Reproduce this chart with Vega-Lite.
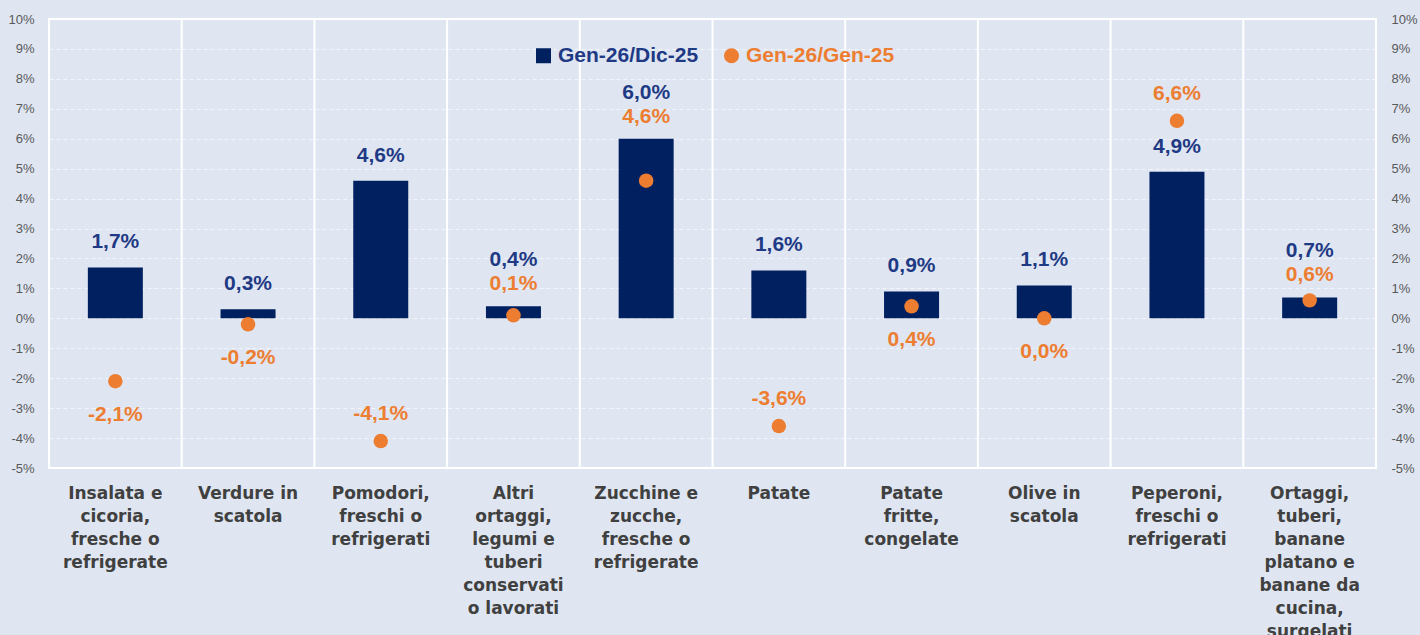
{
  "$schema": "https://vega.github.io/schema/vega-lite/v6.json",
  "width": 1327,
  "height": 449,
  "autosize": "none",
  "padding": {"left": 49, "top": 19, "right": 44, "bottom": 167},
  "background": "#dfe6f2",
  "config": {
    "view": {"stroke": "white", "strokeWidth": 2},
    "locale": {"number": {"decimal": ",", "thousands": ".", "grouping": [3], "currency": ["", " €"], "minus": "-"}}
  },
  "data": {
    "values": [
      {"cat": "Insalata e|cicoria,|fresche o|refrigerate", "bar": 0.017, "pt": -0.021, "mode": "belowPoint"},
      {"cat": "Verdure in|scatola", "bar": 0.003, "pt": -0.002, "mode": "belowPoint"},
      {"cat": "Pomodori,|freschi o|refrigerati", "bar": 0.046, "pt": -0.041, "mode": "abovePoint"},
      {"cat": "Altri|ortaggi,|legumi e|tuberi|conservati|o lavorati", "bar": 0.004, "pt": 0.001, "mode": "aboveBar"},
      {"cat": "Zucchine e|zucche,|fresche o|refrigerate", "bar": 0.06, "pt": 0.046, "mode": "aboveBar"},
      {"cat": "Patate", "bar": 0.016, "pt": -0.036, "mode": "abovePoint"},
      {"cat": "Patate|fritte,|congelate", "bar": 0.009, "pt": 0.004, "mode": "belowPoint"},
      {"cat": "Olive in|scatola", "bar": 0.011, "pt": 0.0, "mode": "belowPoint"},
      {"cat": "Peperoni,|freschi o|refrigerati", "bar": 0.049, "pt": 0.066, "mode": "abovePoint"},
      {"cat": "Ortaggi,|tuberi,|banane|platano e|banane da|cucina,|surgelati", "bar": 0.007, "pt": 0.006, "mode": "aboveBar"}
    ]
  },
  "encoding": {
    "x": {
      "field": "cat", "type": "nominal", "sort": null,
      "scale": {"paddingInner": 0, "paddingOuter": 0},
      "axis": {
        "title": null, "labelAngle": 0, "ticks": false, "domain": false, "grid": false,
        "labelExpr": "split(datum.label, '|')",
        "labelFont": "DejaVu Sans", "labelFontWeight": "bold", "labelFontSize": 17,
        "labelColor": "#404040", "labelLineHeight": 23, "labelBaseline": "top",
        "labelPadding": 17, "labelLimit": 300
      }
    }
  },
  "layer": [
    {
      "mark": {"type": "rule", "color": "white", "strokeWidth": 2},
      "encoding": {"x": {"field": "cat", "type": "nominal", "sort": null, "bandPosition": 0}}
    },
    {
      "mark": {"type": "bar", "width": 55},
      "encoding": {
        "y": {
          "field": "bar", "type": "quantitative",
          "scale": {"domain": [-0.05, 0.1], "nice": false, "zero": false},
          "axis": {
            "orient": "left", "title": null, "format": ".0%",
            "values": [-0.05, -0.04, -0.03, -0.02, -0.01, 0, 0.01, 0.02, 0.03, 0.04, 0.05, 0.06, 0.07, 0.08, 0.09, 0.1],
            "domain": false, "ticks": false, "labelPadding": 15,
            "labelFont": "Liberation Sans", "labelFontSize": 13, "labelColor": "#595959",
            "grid": true, "gridColor": "white", "gridDash": [4, 3], "gridOpacity": 0.6, "gridWidth": 1
          }
        },
        "color": {
          "datum": "Gen-26/Dic-25",
          "scale": {"domain": ["Gen-26/Dic-25", "Gen-26/Gen-25"], "range": ["#002060", "#ED7D31"]},
          "legend": {
            "orient": "none", "legendX": 484, "legendY": 26, "direction": "horizontal",
            "title": null, "padding": 0,
            "labelFont": "Liberation Sans", "labelFontSize": 21, "labelFontWeight": "bold",
            "symbolSize": 225, "symbolStrokeWidth": 0, "labelOffset": 4, "columnPadding": 22,
            "encode": {
              "symbols": {"update": {
                "shape": {"signal": "datum.value === 'Gen-26/Dic-25' ? 'square' : 'circle'"},
                "fill": {"signal": "datum.value === 'Gen-26/Dic-25' ? '#002060' : '#ED7D31'"},
                "opacity": {"value": 1}
              }},
              "labels": {"update": {
                "fill": {"signal": "datum.value === 'Gen-26/Dic-25' ? '#1F3A85' : '#ED7D31'"}
              }}
            }
          }
        }
      }
    },
    {
      "mark": {"type": "rule", "color": "white", "strokeWidth": 5},
      "encoding": {"y": {"datum": 0, "type": "quantitative", "axis": null}}
    },
    {
      "mark": {"type": "point", "filled": true, "size": 210, "opacity": 1},
      "encoding": {
        "y": {
          "field": "pt", "type": "quantitative",
          "axis": {
            "orient": "right", "title": null, "format": ".0%",
            "values": [-0.05, -0.04, -0.03, -0.02, -0.01, 0, 0.01, 0.02, 0.03, 0.04, 0.05, 0.06, 0.07, 0.08, 0.09, 0.1],
            "domain": false, "ticks": false, "labelPadding": 15, "grid": false,
            "labelFont": "Liberation Sans", "labelFontSize": 13, "labelColor": "#595959"
          }
        },
        "color": {"datum": "Gen-26/Gen-25"}
      }
    },
    {
      "transform": [{"filter": "datum.mode !== 'aboveBar'"}],
      "mark": {"type": "text", "dy": -25, "baseline": "middle", "font": "Liberation Sans", "fontWeight": "bold", "fontSize": 21, "color": "#1F3A85"},
      "encoding": {
        "y": {"field": "bar", "type": "quantitative", "axis": null},
        "text": {"field": "bar", "type": "quantitative", "format": ".1%"}
      }
    },
    {
      "transform": [{"filter": "datum.mode === 'aboveBar'"}],
      "mark": {"type": "text", "dy": -46, "baseline": "middle", "font": "Liberation Sans", "fontWeight": "bold", "fontSize": 21, "color": "#1F3A85"},
      "encoding": {
        "y": {"field": "bar", "type": "quantitative", "axis": null},
        "text": {"field": "bar", "type": "quantitative", "format": ".1%"}
      }
    },
    {
      "transform": [{"filter": "datum.mode === 'aboveBar'"}],
      "mark": {"type": "text", "dy": -22, "baseline": "middle", "font": "Liberation Sans", "fontWeight": "bold", "fontSize": 21, "color": "#ED7D31"},
      "encoding": {
        "y": {"field": "bar", "type": "quantitative", "axis": null},
        "text": {"field": "pt", "type": "quantitative", "format": ".1%"}
      }
    },
    {
      "transform": [{"filter": "datum.mode === 'abovePoint'"}],
      "mark": {"type": "text", "dy": -27, "baseline": "middle", "font": "Liberation Sans", "fontWeight": "bold", "fontSize": 21, "color": "#ED7D31"},
      "encoding": {
        "y": {"field": "pt", "type": "quantitative", "axis": null},
        "text": {"field": "pt", "type": "quantitative", "format": ".1%"}
      }
    },
    {
      "transform": [{"filter": "datum.mode === 'belowPoint'"}],
      "mark": {"type": "text", "dy": 34, "baseline": "middle", "font": "Liberation Sans", "fontWeight": "bold", "fontSize": 21, "color": "#ED7D31"},
      "encoding": {
        "y": {"field": "pt", "type": "quantitative", "axis": null},
        "text": {"field": "pt", "type": "quantitative", "format": ".1%"}
      }
    }
  ],
  "resolve": {"axis": {"y": "independent"}}
}
